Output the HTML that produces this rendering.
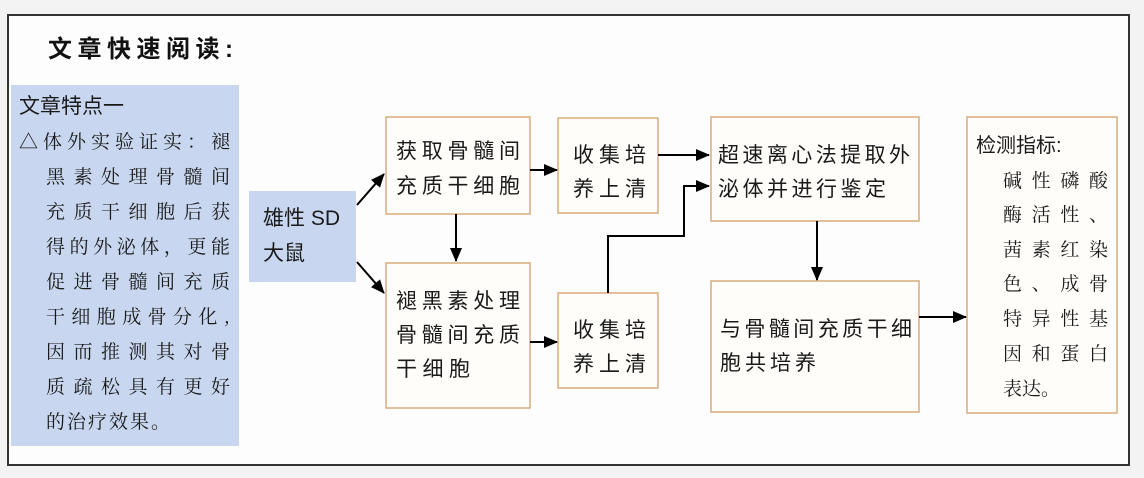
<!DOCTYPE html>
<html><head><meta charset="utf-8"><style>
html,body{margin:0;padding:0;background:#f3f3f3;}
svg{display:block}
.s{font-family:"Liberation Sans","Noto Sans CJK SC",sans-serif;font-size:21px;fill:#1a1a1a}
.k{font-family:"Noto Serif CJK SC",serif;font-size:19px;fill:#1a1a1a}
</style></head><body>
<svg width="1144" height="478" viewBox="0 0 1144 478" xmlns="http://www.w3.org/2000/svg">
<defs><marker id="a" markerWidth="14" markerHeight="12" refX="13" refY="6" orient="auto" markerUnits="userSpaceOnUse"><path d="M0,0 L14,6 L0,12 z" fill="#000"/></marker></defs>
<rect x="8" y="15" width="1121" height="450" fill="#fdfdfd" stroke="#333" stroke-width="2"/>
<text x="48" y="57" font-family="Liberation Sans,Noto Sans CJK SC,sans-serif" font-size="24" font-weight="bold" fill="#111" textLength="185" lengthAdjust="spacing">文章快速阅读:</text>
<rect x="11" y="85" width="228" height="361" fill="#c8d7ef"/>
<text class="s" x="19" y="113" font-size="20">文章特点一</text>
<g class="k">
<text x="19" y="148" textLength="211" lengthAdjust="spacing">△体外实验证实：褪</text>
<text x="46" y="183" textLength="184" lengthAdjust="spacing">黑素处理骨髓间</text>
<text x="46" y="218" textLength="184" lengthAdjust="spacing">充质干细胞后获</text>
<text x="46" y="253" textLength="184" lengthAdjust="spacing">得的外泌体，更能</text>
<text x="46" y="288" textLength="184" lengthAdjust="spacing">促进骨髓间充质</text>
<text x="46" y="323" textLength="184" lengthAdjust="spacing">干细胞成骨分化,</text>
<text x="46" y="358" textLength="184" lengthAdjust="spacing">因而推测其对骨</text>
<text x="46" y="393" textLength="184" lengthAdjust="spacing">质疏松具有更好</text>
<text x="46" y="428" textLength="124" lengthAdjust="spacing">的治疗效果。</text>
</g>
<rect x="249" y="191" width="107" height="91" fill="#c8d7ef"/>
<text class="s" x="263" y="225">雄性 SD</text>
<text class="s" x="263" y="260">大鼠</text>
<g fill="#fffdf9" stroke="#d9ac7c" stroke-width="1.5">
<rect x="386" y="117" width="144" height="97"/>
<rect x="386" y="263" width="144" height="145"/>
<rect x="558" y="118" width="100" height="95"/>
<rect x="558" y="293" width="100" height="95"/>
<rect x="711" y="117" width="208" height="104"/>
<rect x="711" y="281" width="208" height="131"/>
<rect x="967" y="117" width="150" height="296"/>
</g>
<g class="s">
<text x="396" y="158" textLength="124" lengthAdjust="spacing">获取骨髓间</text>
<text x="396" y="193" textLength="124" lengthAdjust="spacing">充质干细胞</text>
<text x="396" y="308" textLength="124" lengthAdjust="spacing">褪黑素处理</text>
<text x="396" y="342" textLength="124" lengthAdjust="spacing">骨髓间充质</text>
<text x="396" y="376" textLength="74" lengthAdjust="spacing">干细胞</text>
<text x="573" y="162" textLength="73" lengthAdjust="spacing">收集培</text>
<text x="573" y="196" textLength="73" lengthAdjust="spacing">养上清</text>
<text x="573" y="337" textLength="73" lengthAdjust="spacing">收集培</text>
<text x="573" y="371" textLength="73" lengthAdjust="spacing">养上清</text>
<text x="718" y="162" textLength="192" lengthAdjust="spacing">超速离心法提取外</text>
<text x="718" y="196" textLength="168" lengthAdjust="spacing">泌体并进行鉴定</text>
<text x="720" y="336" textLength="192" lengthAdjust="spacing">与骨髓间充质干细</text>
<text x="720" y="370" textLength="96" lengthAdjust="spacing">胞共培养</text>
<text x="976" y="152" font-size="20">检测指标:</text>
</g>
<g class="k">
<text x="1003" y="187" textLength="105" lengthAdjust="spacing">碱性磷酸</text>
<text x="1003" y="221" textLength="105" lengthAdjust="spacing">酶活性、</text>
<text x="1003" y="256" textLength="105" lengthAdjust="spacing">茜素红染</text>
<text x="1003" y="290" textLength="105" lengthAdjust="spacing">色、成骨</text>
<text x="1003" y="325" textLength="105" lengthAdjust="spacing">特异性基</text>
<text x="1003" y="360" textLength="105" lengthAdjust="spacing">因和蛋白</text>
<text x="1003" y="395">表达。</text>
</g>
<g stroke="#000" stroke-width="2" fill="none" marker-end="url(#a)">
<line x1="357" y1="205" x2="384" y2="174"/>
<line x1="357" y1="262" x2="384" y2="293"/>
<line x1="456" y1="214" x2="456" y2="261"/>
<line x1="530" y1="170" x2="557" y2="170"/>
<line x1="530" y1="342" x2="557" y2="342"/>
<line x1="658" y1="155" x2="709" y2="155"/>
<polyline points="608,293 608,236 684,236 684,186 709,186"/>
<line x1="817" y1="221" x2="817" y2="280"/>
<line x1="919" y1="317" x2="966" y2="317"/>
</g>
</svg>
</body></html>
